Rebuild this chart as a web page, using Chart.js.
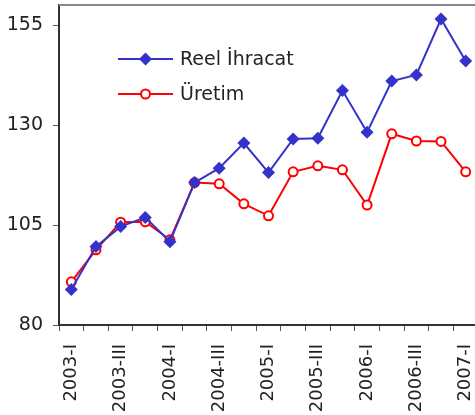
<!DOCTYPE html>
<html>
<head>
<meta charset="utf-8">
<script src="https://cdn.jsdelivr.net/npm/chart.js@4/dist/chart.umd.min.js"></script>
<style>
  html, body { margin: 0; padding: 0; overflow: hidden; background: #fff; }
  #wrap { width: 478px; height: 415px; }
</style>
</head>
<body>
<div id="wrap"><canvas id="chart" width="478" height="415"></canvas></div>
<script>
// Quarters, 2003-I .. 2007-I
const quarters = [
  '2003-I', '2003-II', '2003-III', '2003-IV',
  '2004-I', '2004-II', '2004-III', '2004-IV',
  '2005-I', '2005-II', '2005-III', '2005-IV',
  '2006-I', '2006-II', '2006-III', '2006-IV',
  '2007-I'
];

// Series values
const reelIhracat = [88.9, 99.6, 104.6, 106.9, 100.8, 115.6, 119.2, 125.5, 118.1, 126.5, 126.7, 138.6, 128.2, 141.0, 142.5, 156.5, 146.0];
const uretim = [90.8, 98.8, 105.7, 105.8, 101.3, 115.6, 115.3, 110.3, 107.3, 118.3, 119.8, 118.8, 110.0, 127.8, 126.0, 125.9, 118.3];

// Axis
const yTicks = [80, 105, 130, 155];
const yMin = 80;
const yMax = 160;

const FONT = '"DejaVu Sans", sans-serif';
const BLUE = '#3333cc';
const RED = '#ff0000';

// Draws the top frame line and the legend inside the plot area
const framePlugin = {
  id: 'frame',
  afterDraw(chart) {
    const ctx = chart.ctx;
    const area = chart.chartArea;
    ctx.save();
    ctx.strokeStyle = '#888888';
    ctx.lineWidth = 2;
    ctx.beginPath();
    ctx.moveTo(area.left, area.top);
    ctx.lineTo(area.right, area.top);
    ctx.stroke();

    // legend
    const items = [
      { text: 'Reel İhracat', color: BLUE, style: 'diamond' },
      { text: 'Üretim', color: RED, style: 'circle' }
    ];
    const x0 = area.left + 59;
    const x1 = area.left + 114;
    let y = area.top + 54;
    ctx.font = '19px ' + FONT;
    ctx.textBaseline = 'middle';
    items.forEach(item => {
      ctx.strokeStyle = item.color;
      ctx.lineWidth = 2;
      ctx.beginPath();
      ctx.moveTo(x0, y);
      ctx.lineTo(x1, y);
      ctx.stroke();
      const mx = (x0 + x1) / 2;
      if (item.style === 'diamond') {
        ctx.fillStyle = item.color;
        ctx.beginPath();
        ctx.moveTo(mx, y - 6.5);
        ctx.lineTo(mx + 6.5, y);
        ctx.lineTo(mx, y + 6.5);
        ctx.lineTo(mx - 6.5, y);
        ctx.closePath();
        ctx.fill();
      } else {
        ctx.fillStyle = '#fff';
        ctx.beginPath();
        ctx.arc(mx, y, 4.5, 0, Math.PI * 2);
        ctx.fill();
        ctx.stroke();
      }
      ctx.fillStyle = '#222';
      ctx.fillText(item.text, x1 + 7, y + 1);
      y += 35;
    });
    ctx.restore();
  }
};

const ctx = document.getElementById('chart').getContext('2d');
new Chart(ctx, {
  type: 'line',
  data: {
    labels: quarters,
    datasets: [
      {
        label: 'Reel İhracat',
        data: reelIhracat,
        borderColor: BLUE,
        backgroundColor: BLUE,
        borderWidth: 2,
        pointStyle: 'rectRot',
        pointRadius: 6.5,
        pointBorderWidth: 0,
        tension: 0
      },
      {
        label: 'Üretim',
        data: uretim,
        borderColor: RED,
        backgroundColor: '#ffffff',
        borderWidth: 2,
        pointStyle: 'circle',
        pointRadius: 4.5,
        pointBorderWidth: 2,
        tension: 0
      }
    ]
  },
  options: {
    responsive: false,
    animation: false,
    layout: { autoPadding: false, padding: { top: 5, right: 0, left: 0, bottom: 0 } },
    plugins: {
      legend: { display: false },
      tooltip: { enabled: false }
    },
    scales: {
      x: {
        offset: true,
        grid: {
          offset: true,
          drawOnChartArea: false,
          drawTicks: true,
          tickLength: 6,
          color: '#555'
        },
        border: { color: '#333', width: 2 },
        ticks: {
          autoSkip: false,
          maxRotation: 90,
          minRotation: 90,
          padding: 13,
          color: '#222',
          font: { family: FONT, size: 18 },
          callback: function(value, index) {
            return index % 2 === 0 ? quarters[index] : '';
          }
        },
        afterFit: function(scale) {
          scale.height = 90;
          scale.paddingLeft = 0;
          scale.paddingRight = 0;
        }
      },
      y: {
        min: yMin,
        max: yMax,
        grid: {
          drawOnChartArea: false,
          drawTicks: true,
          tickLength: 6,
          color: '#555'
        },
        border: { color: '#333', width: 2 },
        ticks: {
          padding: 10,
          color: '#222',
          font: { family: FONT, size: 19 }
        },
        afterBuildTicks: function(scale) {
          scale.ticks = yTicks.map(v => ({ value: v }));
        },
        afterFit: function(scale) {
          scale.width = 59;
          scale.paddingTop = 0;
          scale.paddingBottom = 0;
        }
      }
    }
  },
  plugins: [framePlugin]
});
</script>
</body>
</html>
